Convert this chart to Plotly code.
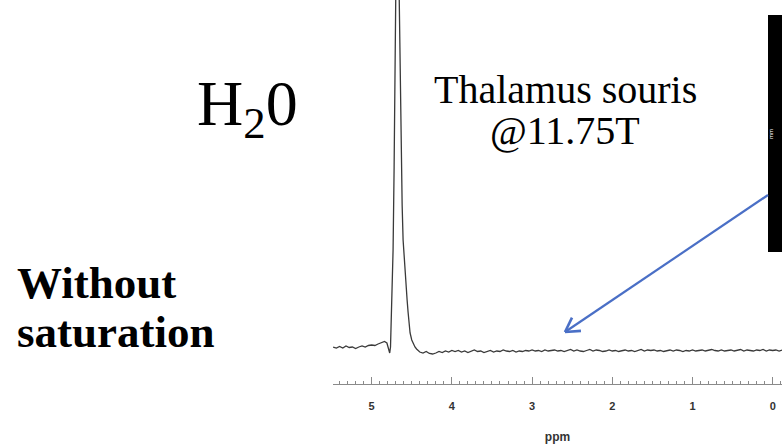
import math
import plotly.graph_objects as go

# Spectrum: chemical shift (ppm) and intensity (arbitrary units, baseline ~0)
ppm = [5.48, 5.44, 5.40, 5.36, 5.32, 5.28, 5.24, 5.20, 5.16, 5.12, 5.08, 5.04, 5.00,
       4.96, 4.92, 4.88, 4.84, 4.81, 4.79, 4.775, 4.765, 4.758, 4.745, 4.733, 4.720,
       4.708, 4.695, 4.680, 4.668, 4.658, 4.646, 4.633, 4.620, 4.608, 4.595, 4.583,
       4.571, 4.558, 4.546, 4.533, 4.521, 4.50, 4.48, 4.46, 4.44, 4.42,
       4.40, 4.36, 4.32, 4.28, 4.24, 4.20, 4.16, 4.12, 4.08, 4.04, 4.00,
       3.96, 3.92, 3.88, 3.84, 3.80, 3.76, 3.72, 3.68, 3.64, 3.60, 3.56, 3.52, 3.48,
       3.44, 3.40, 3.36, 3.32, 3.28, 3.24, 3.20, 3.16, 3.12, 3.08, 3.04, 3.00,
       2.96, 2.92, 2.88, 2.84, 2.80, 2.76, 2.72, 2.68, 2.64, 2.60, 2.56, 2.52, 2.48,
       2.44, 2.40, 2.36, 2.32, 2.28, 2.24, 2.20, 2.16, 2.12, 2.08, 2.04, 2.00,
       1.96, 1.92, 1.88, 1.84, 1.80, 1.76, 1.72, 1.68, 1.64, 1.60, 1.56, 1.52, 1.48,
       1.44, 1.40, 1.36, 1.32, 1.28, 1.24, 1.20, 1.16, 1.12, 1.08, 1.04, 1.00,
       0.96, 0.92, 0.88, 0.84, 0.80, 0.76, 0.72, 0.68, 0.64, 0.60, 0.56, 0.52, 0.48,
       0.44, 0.40, 0.36, 0.32, 0.28, 0.24, 0.20, 0.16, 0.12, 0.08, 0.04, 0.00,
       -0.04, -0.08, -0.12]
intensity = [5, 4, 5.5, 4, 6, 4.5, 5, 3.5, 5, 6, 5, 6.5, 7,
             6.5, 8, 9.5, 10.5, 9, 3, -1, 5, 22, 52, 102, 185,
             262, 352, 520, 420, 352, 262, 185, 147, 112, 94, 85,
             67, 52, 40, 28, 19, 12, 8, 5, 3, 1,
             0, -1, 0.5, -1.5, -2, -1, 0.5, -0.5, 1, 0, 1.5,
             0.5, 1.5, 0, 1, -0.5, 0.5, 2, 0.5, 1, -0.5, 0.5, 1.5, 0,
             1, 0.5, 2, 1, 0.5, 1.5, 0, 1, 0.5, 1.5, 1, 2,
             1, 1.5, 0.5, 2, 1, 1.5, 2, 1, 1.5, 0.5, 1.5, 2.5, 1,
             2, 1, 0.5, 1.5, 2.5, 1, 2, 1.5, 0.5, 1, 2, 1,
             1.5, 0.5, 1, 2, 1, 1.5, 0.5, 1.5, 2.5, 1, 2, 1.5, 2,
             1, 1.5, 0.5, 1.5, 2, 1, 2, 1.5, 0.5, 1.5, 1, 2,
             1, 1.5, 2, 1, 1.5, 2.5, 1.5, 1, 2, 1, 1.5, 2, 1,
             1.5, 2.5, 1, 2, 1.5, 1, 2, 1.5, 2.5, 1, 2, 1.5,
             2, 1, 2]

tick_vals = [5, 4, 3, 2, 1, 0]
tick_text = ["5", "4", "3", "2", "1", "0"]

W, H = 782, 444
PLOT_TOP, PLOT_BOTTOM = 0, 384  # pixel rows of plot area


def py(p):  # pixel row -> paper y
    return (PLOT_BOTTOM - p) / (PLOT_BOTTOM - PLOT_TOP)


def px(p):  # pixel column -> paper x
    return p / W


fig = go.Figure()
fig.add_trace(go.Scatter(x=ppm, y=intensity, mode="lines",
                         line=dict(color="#3a3a3a", width=1.3),
                         hoverinfo="skip", showlegend=False))

fig.update_layout(
    width=W, height=H,
    margin=dict(l=0, r=0, t=PLOT_TOP, b=H - PLOT_BOTTOM, autoexpand=False),
    paper_bgcolor="white", plot_bgcolor="white",
    showlegend=False,
    xaxis=dict(domain=[333 / W, 1], range=[5.482, -0.116], autorange=False,
               automargin=False,
               showgrid=False, zeroline=False, showline=True,
               linecolor="#8a8a8a", linewidth=1,
               ticks="inside", ticklen=7, tickwidth=1, tickcolor="#8a8a8a",
               tickvals=tick_vals, ticktext=tick_text,
               ticklabelstandoff=12,
               tickfont=dict(family="Liberation Sans", size=11, color="#333333", weight="bold"),
               minor=dict(dtick=0.1, ticks="inside", ticklen=3, tickcolor="#8a8a8a",
                          showgrid=False),
               title=dict(text="ppm", standoff=23,
                          font=dict(family="Liberation Sans", size=12, color="#333333",
                                    weight="bold"))),
    yaxis=dict(range=[-32, 352], autorange=False, visible=False, showgrid=False,
               zeroline=False),
)

# black vertical strip (scale bar image) at right
fig.add_shape(type="rect", xref="paper", yref="paper",
              x0=px(768), x1=px(782), y0=py(252), y1=py(15),
              fillcolor="black", line=dict(width=0), layer="above")
fig.add_annotation(xref="paper", yref="paper", x=px(776), y=py(127),
                   text="mm", showarrow=False, textangle=-90,
                   font=dict(family="Liberation Sans", size=6, color="white"))

serif = "Liberation Serif"
fig.add_annotation(xref="paper", yref="paper", x=px(195), y=py(66),
                   xanchor="left", yanchor="top", showarrow=False,
                   text="H<sub>2</sub>0", font=dict(family=serif, size=64, color="black"))
fig.add_annotation(xref="paper", yref="paper", x=px(565), y=py(89),
                   xanchor="center", yanchor="middle", showarrow=False,
                   text="Thalamus souris", font=dict(family=serif, size=40, color="black"))
fig.add_annotation(xref="paper", yref="paper", x=px(565), y=py(130),
                   xanchor="center", yanchor="middle", showarrow=False,
                   text="@11.75T", font=dict(family=serif, size=40, color="black"))
fig.add_annotation(xref="paper", yref="paper", x=px(15), y=py(283),
                   xanchor="left", yanchor="middle", showarrow=False,
                   text="<b>Without</b>", font=dict(family=serif, size=45, color="black"))
fig.add_annotation(xref="paper", yref="paper", x=px(15), y=py(332),
                   xanchor="left", yanchor="middle", showarrow=False,
                   text="<b>saturation</b>", font=dict(family=serif, size=45, color="black"))

# blue arrow (shaft + open chevron head) pointing to the baseline
tip = (565, 332)
tail = (768, 195)
arrow_color = "#4a6fc6"
dx, dy = tail[0] - tip[0], tail[1] - tip[1]
L = math.hypot(dx, dy)
ux, uy = dx / L, dy / L
fig.add_shape(type="line", xref="paper", yref="paper",
              x0=px(tail[0]), y0=py(tail[1]), x1=px(tip[0]), y1=py(tip[1]),
              line=dict(color=arrow_color, width=2.2))
wing = 16
for ang in (math.radians(30), math.radians(-30)):
    wx = ux * math.cos(ang) - uy * math.sin(ang)
    wy = ux * math.sin(ang) + uy * math.cos(ang)
    fig.add_shape(type="line", xref="paper", yref="paper",
                  x0=px(tip[0]), y0=py(tip[1]),
                  x1=px(tip[0] + wing * wx), y1=py(tip[1] + wing * wy),
                  line=dict(color=arrow_color, width=2.6))

fig.write_html("out.html",
               config={"displayModeBar": False, "staticPlot": True},
               post_script="document.body.style.margin='0';document.body.style.overflow='hidden';")
